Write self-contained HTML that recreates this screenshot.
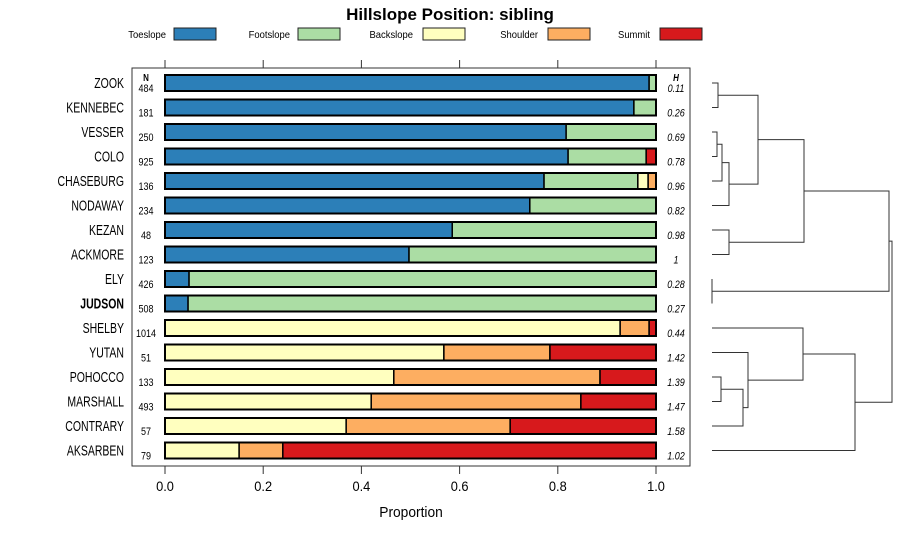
<!DOCTYPE html>
<html><head><meta charset="utf-8">
<style>
body{margin:0;background:#fff;font-family:"Liberation Sans",sans-serif;}
svg{display:block}
</style></head><body>
<svg id="c" width="900" height="540" xmlns="http://www.w3.org/2000/svg"></svg>
<script>
const categories=["ZOOK","KENNEBEC","VESSER","COLO","CHASEBURG","NODAWAY","KEZAN","ACKMORE","ELY","JUDSON","SHELBY","YUTAN","POHOCCO","MARSHALL","CONTRARY","AKSARBEN"];
const nValues=[484,181,250,925,136,234,48,123,426,508,1014,51,133,493,57,79];
const hValues=["0.11","0.26","0.69","0.78","0.96","0.82","0.98","1","0.28","0.27","0.44","1.42","1.39","1.47","1.58","1.02"];
const seriesNames=["Toeslope","Footslope","Backslope","Shoulder","Summit"];
const toeslope=[0.986,0.955,0.817,0.821,0.772,0.743,0.585,0.497,0.049,0.047,0,0,0,0,0,0];
const footslope=[0.014,0.045,0.183,0.159,0.191,0.257,0.415,0.503,0.951,0.953,0,0,0,0,0,0];
const backslope=[0,0,0,0,0.021,0,0,0,0,0,0.927,0.568,0.466,0.42,0.369,0.151];
const shoulder=[0,0,0,0,0.016,0,0,0,0,0,0.059,0.216,0.42,0.427,0.334,0.089];
const summit=[0,0,0,0.02,0,0,0,0,0,0,0.014,0.216,0.114,0.153,0.297,0.76];
const xTicks=[0,0.2,0.4,0.6,0.8,1.0];
const mergeA=[0,2,17,18,16,6,20,8,22,12,25,11,10,28,24];
const mergeB=[1,3,4,5,19,7,21,9,23,13,14,26,27,15,29];
const mergeH=[6,5,10,17,46,17,92,0,177,9,31,36,91,143,180];
const colors=["#2c7fb8","#abdda4","#ffffbf","#fdae61","#d7191c"];
const series=[toeslope,footslope,backslope,shoulder,summit];
const svg=document.getElementById('c');
const NS="http://www.w3.org/2000/svg";
function el(t,a,p){const e=document.createElementNS(NS,t);for(const k in a)e.setAttribute(k,a[k]);(p||svg).appendChild(e);return e;}
function ntext(x,y,anchor,size,txt,sx,extra){const a=Object.assign({x:0,y:0,'text-anchor':anchor,'font-size':size,transform:`translate(${x},${y}) scale(${sx},1)`},extra||{});const e=el('text',a);e.textContent=txt;return e;}
const x0=165,x1=656;
const xs=v=>x0+v*(x1-x0);
const yRow=i=>83+i*24.5;
let t=el('text',{x:450,y:20,'text-anchor':'middle','font-size':17,'font-weight':'bold'});t.textContent="Hillslope Position: sibling";

const legX=[[166,174],[290,298],[413,423],[538,548],[650,660]];
seriesNames.forEach((s,i)=>{
 const g=el('g',{});
 
 const tx=el('text',{x:0,y:0,'text-anchor':'end','font-size':10.5,transform:`translate(${legX[i][0]},38) scale(0.9,1)`},g);tx.textContent=s;
 el('rect',{x:legX[i][1],y:28,width:42,height:12,fill:colors[i],stroke:'#222','stroke-width':1},g);
});
const p=el('rect',{x:132,y:68,width:558,height:398,fill:'none',stroke:'#333','stroke-width':1});

xTicks.forEach(v=>{
 el('line',{x1:xs(v),x2:xs(v),y1:60,y2:68,stroke:'#333'});
 el('line',{x1:xs(v),x2:xs(v),y1:466,y2:474,stroke:'#333'});
 const tl=ntext(xs(v),491,'middle',13.5,v.toFixed(1),0.95);
 
});
t=ntext(411,517,'middle',14.5,"Proportion",0.95);

ntext(146,81,'middle',10,"N",0.8,{'font-weight':'bold'});
ntext(676,81,'middle',10,"H",0.8,{'font-weight':'bold','font-style':'italic'});
categories.forEach((c,i)=>{
 const y=yRow(i);
 const lb=ntext(124,y+5,'end',15,c,0.7,{'font-weight':c==="JUDSON"?'bold':'normal'});
 
 const nt=ntext(146,y+9,'middle',11,String(nValues[i]),0.82);
 
 const ht=ntext(676,y+9,'middle',11,hValues[i],0.82,{'font-style':'italic'});
 
 let cum=0;
 series.forEach((s,k)=>{
  if(s[i]>0){
   const r=el('rect',{x:xs(cum),y:y-8,width:xs(cum+s[i])-xs(cum),height:16,fill:colors[k],stroke:'#000','stroke-width':1.5});
   
  }
  cum+=s[i];
 });
 el('rect',{x:x0,y:y-8,width:x1-x0,height:16,fill:'none',stroke:'#000','stroke-width':2});
});
const leafX=712;
const nodes=categories.map((c,i)=>({x:leafX,y:yRow(i)}));
const dg=el('g',{stroke:'#333','stroke-width':1,fill:'none'});

mergeA.forEach((a,m)=>{
 const b=mergeB[m];
 const xm=leafX+mergeH[m];
 const A=nodes[a],B=nodes[b];
 el('path',{d:`M${A.x},${A.y}H${xm}V${B.y}H${B.x}`},dg);
 nodes.push({x:xm,y:(A.y+B.y)/2});
});
</script>
</body></html>
